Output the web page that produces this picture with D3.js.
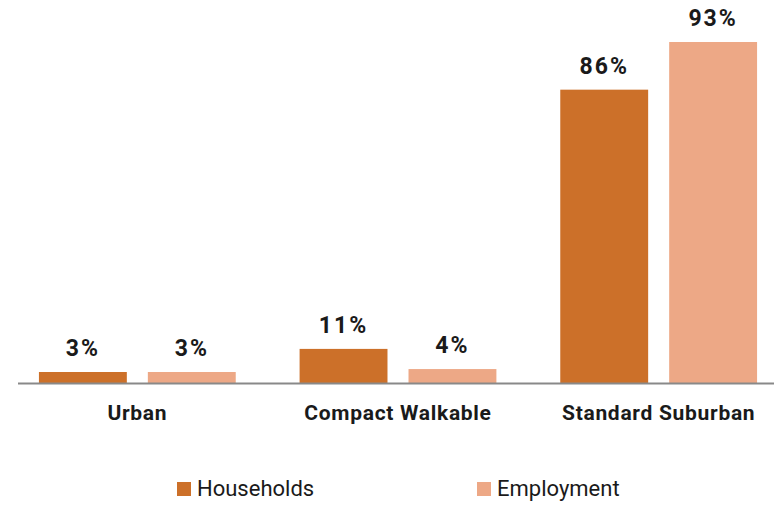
<!doctype html>
<meta charset="utf-8">
<style>
    body { margin: 0; background: #fff; }
    svg { display: block; font-family: Roboto, "Noto Sans", sans-serif; }
</style>
<body>
<script src="https://d3js.org/d3.v7.min.js"></script>
<script>
    const categories = ['Urban', 'Compact Walkable', 'Standard Suburban'];
    const series = ['Households', 'Employment'];
    // bar heights (percent)
    const households = [3, 9.3, 80];
    const employment = [3, 3.8, 93];
    // printed value labels
    const householdLabels = ['3%', '11%', '86%'];
    const employmentLabels = ['3%', '4%', '93%'];
    const colors = ['#cc7029', '#eda886'];

    const width = 774, height = 505;
    const baseline = 383;

    const svg = d3.select('body').append('svg')
        .attr('width', width)
        .attr('height', height);

    // scales
    const x0 = d3.scaleBand().domain(categories).range([7, 789])
        .paddingInner(0.245).paddingOuter(0.1225);
    const x1 = d3.scaleBand().domain(series).range([0, x0.bandwidth()]).paddingInner(0.193);
    const y = d3.scaleLinear().domain([0, 93]).range([baseline, 42]);
    const color = d3.scaleOrdinal().domain(series).range(colors);

    const rows = categories.map((c, i) => ({
        category: c,
        values: [
            {key: 'Households', value: households[i], label: householdLabels[i]},
            {key: 'Employment', value: employment[i], label: employmentLabels[i]}
        ]
    }));

    const groups = svg.selectAll('.group')
        .data(rows)
        .enter().append('g')
        .attr('transform', d => `translate(${x0(d.category)},0)`);

    groups.selectAll('rect')
        .data(d => d.values)
        .enter().append('rect')
        .attr('x', d => x1(d.key))
        .attr('y', d => y(d.value))
        .attr('width', x1.bandwidth())
        .attr('height', d => baseline - y(d.value))
        .attr('fill', d => color(d.key));

    groups.selectAll('.val')
        .data(d => d.values)
        .enter().append('text')
        .attr('class', 'val')
        .attr('x', d => x1(d.key) + x1.bandwidth() / 2)
        .attr('y', d => y(d.value) - 16)
        .attr('text-anchor', 'middle')
        .attr('font-size', 23)
        .attr('font-weight', 'bold')
        .attr('letter-spacing', 2)
        .attr('fill', '#1a1a1a')
        .text(d => d.label);

    // x axis
    const axis = svg.append('g').attr('transform', `translate(0,${baseline})`)
        .call(d3.axisBottom(x0).tickSize(0).tickPadding(22));
    axis.select('.domain').remove();
    axis.append('line')
        .attr('x1', 18).attr('x2', width)
        .attr('y1', 0.5).attr('y2', 0.5)
        .attr('stroke', '#898989').attr('stroke-width', 2);
    axis.selectAll('.tick text')
        .attr('font-family', 'Roboto, sans-serif')
        .attr('font-size', 21)
        .attr('font-weight', 'bold')
        .attr('letter-spacing', 0.7)
        .attr('fill', '#1a1a1a');

    // legend
    const legend = svg.append('g');
    const legendX = [177, 477];
    series.forEach((s, i) => {
        legend.append('rect')
            .attr('x', legendX[i]).attr('y', 482)
            .attr('width', 14).attr('height', 14)
            .attr('fill', color(s));
        legend.append('text')
            .attr('x', legendX[i] + 20).attr('y', 496)
            .attr('font-size', 22)
            .attr('fill', '#1a1a1a')
            .text(s);
    });
</script>
